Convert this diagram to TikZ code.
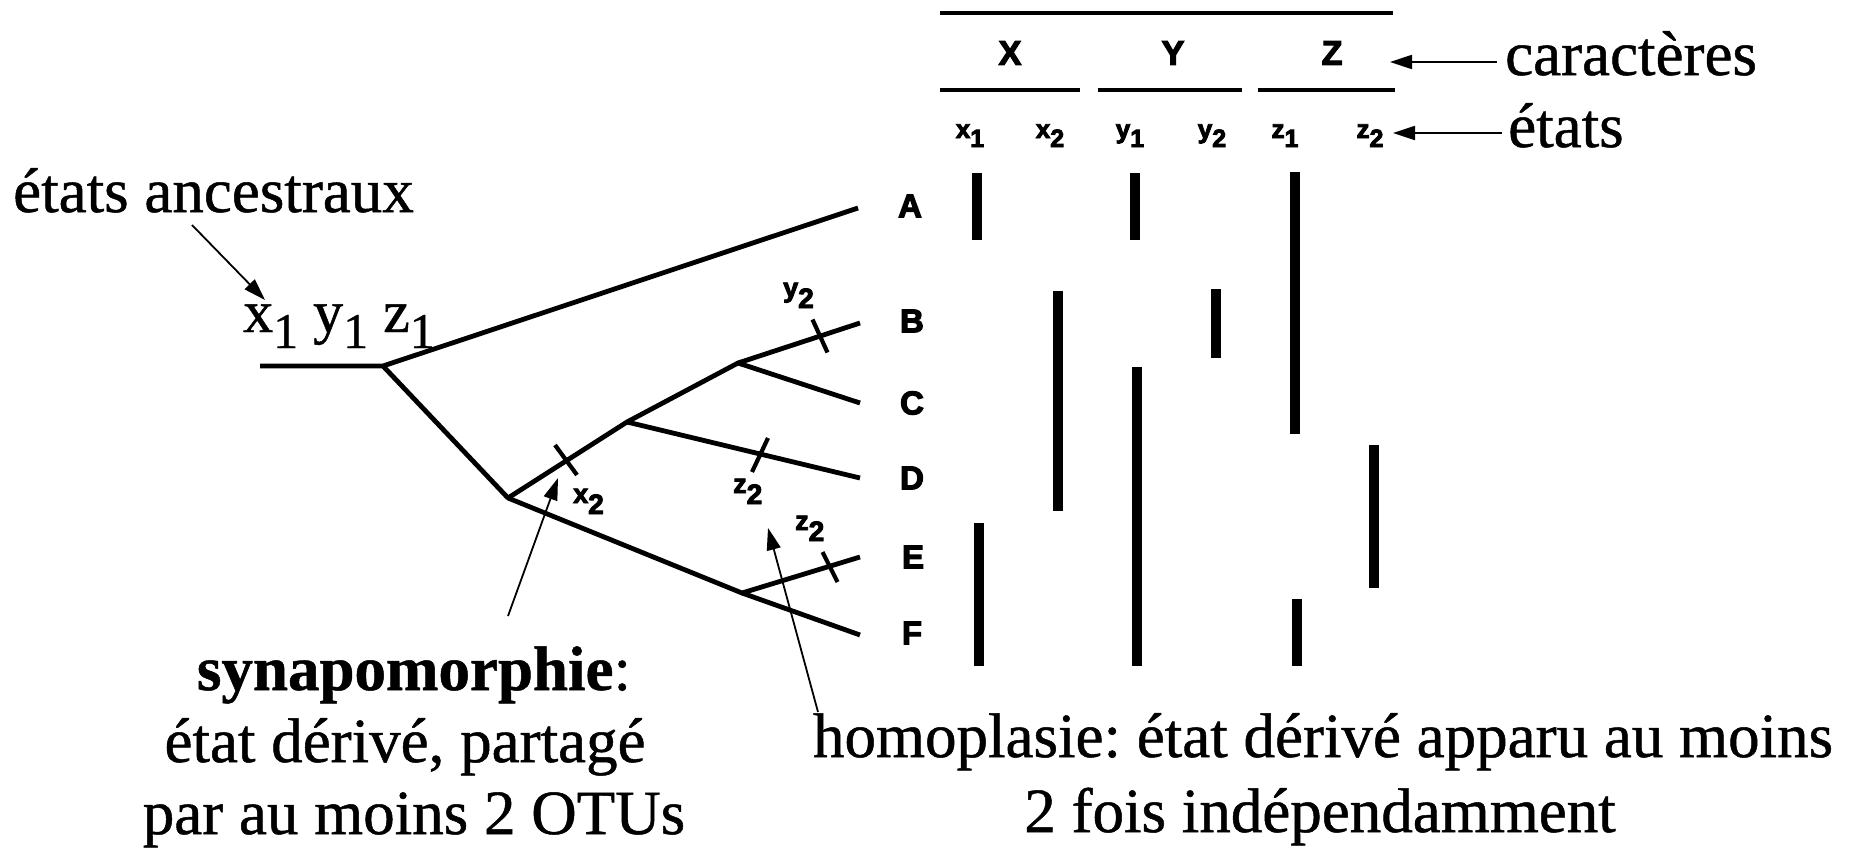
\documentclass[tikz,border=0pt]{standalone}
\usepackage{fontspec}
\setmainfont{Liberation Serif}[FakeBold=0.8]
\newfontfamily\hvfont{Liberation Sans}[BoldFeatures={FakeBold=3.5}]
\usetikzlibrary{arrows.meta,calc}
\frenchspacing
\newcommand\hdrstate[2]{{\fontsize{26}{26}\selectfont #1}\raisebox{-9pt}{\fontsize{25}{25}\selectfont #2}}
\newcommand\treestate[2]{{\fontsize{27}{27}\selectfont #1}\raisebox{-11pt}{\fontsize{28}{28}\selectfont #2}}
\newcommand\ancsub[1]{\raisebox{-16pt}{\fontsize{50}{50}\selectfont #1}}
\begin{document}
\begin{tikzpicture}[x=1pt,y=-1pt,
  branch/.style={line width=4.8pt, line join=round},
  tickmark/.style={line width=4.2pt},
  bar/.style={line width=10pt},
  hrule/.style={line width=4pt},
  pointer/.style={line width=1.8pt,-{Triangle[length=22pt,width=14pt]}},
  serif/.style={font=\fontsize{63}{72}\selectfont, inner sep=0pt},
  serifbig/.style={font=\fontsize{60}{72}\selectfont, inner sep=0pt},
  taxon/.style={font=\hvfont\bfseries\fontsize{33}{33}\selectfont, inner sep=0pt},
  charname/.style={font=\hvfont\bfseries\fontsize{34}{34}\selectfont, inner sep=0pt},
  statelab/.style={font=\hvfont\bfseries, inner sep=0pt},
]
\useasboundingbox (0,0) rectangle (1860,851);

% ---- tree
\coordinate (r0) at (260,366);
\coordinate (r) at (383,366);
\coordinate (tA) at (858,208);
\coordinate (n1) at (508,498);
\coordinate (n2) at (627,422);
\coordinate (n3) at (738,363);
\coordinate (tB) at (860,323);
\coordinate (tC) at (860,403);
\coordinate (tD) at (860,478);
\coordinate (n4) at (742,593);
\coordinate (tE) at (860,557);
\coordinate (tF) at (860,635);

\draw[branch] (r0) -- (r) -- (tA);
\draw[branch] (r) -- (n1) -- (n2) -- (n3) -- (tB);
\draw[branch] (n3) -- (tC);
\draw[branch] (n2) -- (tD);
\draw[branch] (n1) -- (n4) -- (tE);
\draw[branch] (n4) -- (tF);

% ---- character changes on branches
\draw[tickmark] (566,460) ++(-11,-15) -- ++(22,30);
\draw[tickmark] (820,336) ++(-7.5,-16.5) -- ++(15,33);
\draw[tickmark] (760,455) ++(8,-17) -- ++(-16,34);
\draw[tickmark] (830,567) ++(-7.5,-15) -- ++(15,30);

\node[statelab, anchor=base west] (lx2) at (573,503) {\treestate{x}{2}};
\node[statelab, anchor=base west] (ly2) at (783,297) {\treestate{y}{2}};
\node[statelab, anchor=base west] (lzD) at (733,493) {\treestate{z}{2}};
\node[statelab, anchor=base west] (lzE) at (795,530) {\treestate{z}{2}};

% ---- taxa
\node[taxon] (A) at (910,206) {A};
\node[taxon] (B) at (912,321) {B};
\node[taxon] (C) at (912,403) {C};
\node[taxon] (D) at (912,478) {D};
\node[taxon] (E) at (913,557) {E};
\node[taxon] (F) at (912,633) {F};

% ---- character header
\coordinate (h0a) at (940,13);  \coordinate (h0b) at (1393,13);
\coordinate (hXa) at (940,90);  \coordinate (hXb) at (1080,90);
\coordinate (hYa) at (1098,90); \coordinate (hYb) at (1242,90);
\coordinate (hZa) at (1258,90); \coordinate (hZb) at (1395,90);
\draw[hrule] (h0a) -- (h0b);
\draw[hrule] (hXa) -- (hXb);
\draw[hrule] (hYa) -- (hYb);
\draw[hrule] (hZa) -- (hZb);
\node[charname] (X) at (1010,53) {X};
\node[charname] (Y) at (1173,53) {Y};
\node[charname] (Z) at (1332,53) {Z};

\node[statelab, anchor=base] (sx1) at (970,138) {\hdrstate{x}{1}};
\node[statelab, anchor=base] (sx2) at (1050,138) {\hdrstate{x}{2}};
\node[statelab, anchor=base] (sy1) at (1130,138) {\hdrstate{y}{1}};
\node[statelab, anchor=base] (sy2) at (1212,138) {\hdrstate{y}{2}};
\node[statelab, anchor=base] (sz1) at (1285,138) {\hdrstate{z}{1}};
\node[statelab, anchor=base] (sz2) at (1370,138) {\hdrstate{z}{2}};

% ---- state bars
\draw[bar] (977,173) -- (977,240);   % x1 A
\draw[bar] (1135,173) -- (1135,240); % y1 A
\draw[bar] (1295,172) -- (1295,434); % z1 A-C
\draw[bar] (1058,291) -- (1058,511); % x2 B-D
\draw[bar] (1216,289) -- (1216,358); % y2 B
\draw[bar] (1137,367) -- (1137,666); % y1 C-F
\draw[bar] (1374,445) -- (1374,588); % z2 D-E
\draw[bar] (979,523) -- (979,666);   % x1 E-F
\draw[bar] (1297,599) -- (1297,666); % z1 F

% ---- annotations
\node[serif, anchor=base west] (anc) at (13,212) {états ancestraux};
\node[serifbig, anchor=base west] (ancst) at (243,332) {x\ancsub{1} y\ancsub{1} z\ancsub{1}};
\coordinate (ancS) at (192,225);
\coordinate (ancT) at (265,300);
\draw[pointer] (ancS) -- (ancT);

\node[serif, anchor=base west] (car) at (1505,75) {caractères};
\node[serif, anchor=base west] (eta) at (1508,147) {états};
\coordinate (carS) at (1497,62);  \coordinate (carT) at (1390,62);
\coordinate (etaS) at (1502,133); \coordinate (etaT) at (1393,133);
\draw[pointer] (carS) -- (carT);
\draw[pointer] (etaS) -- (etaT);

\node[serif, anchor=base] (syn1) at (414,690) {\textbf{synapomorphie}:};
\node[serif, anchor=base] (syn2) at (405,762) {état dérivé, partagé};
\node[serif, anchor=base] (syn3) at (414,834) {par au moins 2 OTUs};
\coordinate (synS) at (508,616);
\coordinate (synT) at (558,478);
\draw[pointer] (synS) -- (synT);

\node[serif, anchor=base] (hom1) at (1323,757) {homoplasie: état dérivé apparu au moins};
\node[serif, anchor=base] (hom2) at (1320,832) {2 fois indépendamment};
\coordinate (homS) at (818,712);
\coordinate (homT) at (768,528);
\draw[pointer] (homS) -- (homT);
\end{tikzpicture}
\end{document}
